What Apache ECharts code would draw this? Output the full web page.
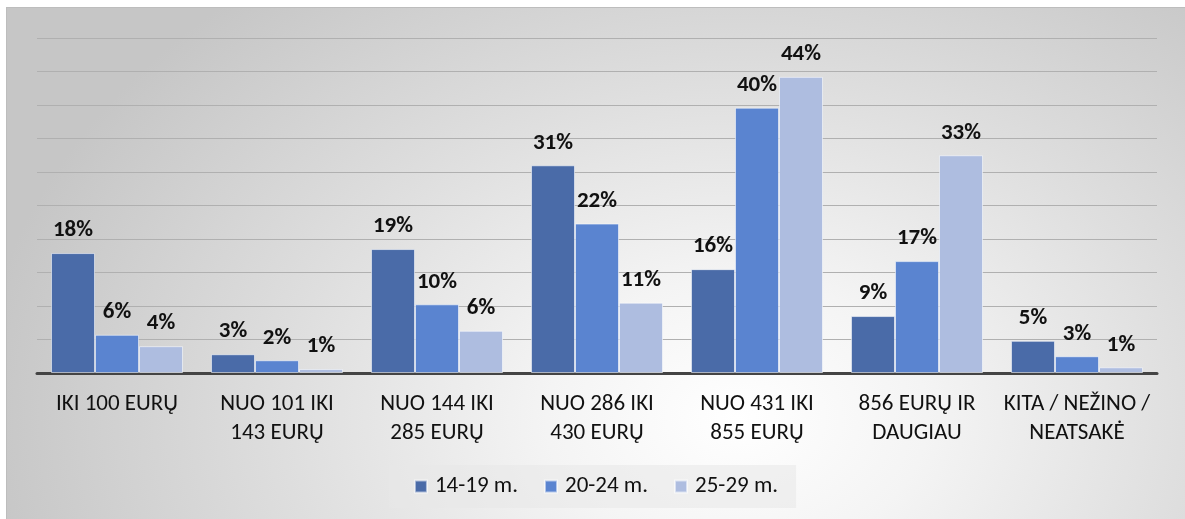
<!DOCTYPE html>
<html>
<head>
<meta charset="utf-8">
<script src="https://cdn.jsdelivr.net/npm/echarts@6/dist/echarts.min.js"></script>
<style>
  html, body { margin: 0; padding: 0; background: #fff; }
  #chart {
    position: absolute; left: 6px; top: 7px;
    width: 1178px; height: 511px;
    border-top: 1px solid #bdbdbd; border-left: 1px solid #bdbdbd;
    background: radial-gradient(ellipse 760px 560px at 730px 410px, #ffffff 0%, #f4f4f4 25%, #dedede 60%, #c6c6c6 100%);
  }
</style>
</head>
<body>
<div id="chart"></div>
<script>
const categories = [
    'IKI 100 EURŲ',
    'NUO 101 IKI\n143 EURŲ',
    'NUO 144 IKI\n285 EURŲ',
    'NUO 286 IKI\n430 EURŲ',
    'NUO 431 IKI\n855 EURŲ',
    '856 EURŲ IR\nDAUGIAU',
    'KITA / NEŽINO /\nNEATSAKĖ'
];
const seriesNames = ['14-19 m.', '20-24 m.', '25-29 m.'];
const age14to19 = [17.9, 2.8, 18.5, 31.0, 15.5, 8.5, 4.8];
const age20to24 = [5.7, 1.9, 10.25, 22.3, 39.6, 16.7, 2.5];
const age25to29 = [4.0, 0.6, 6.3, 10.5, 44.2, 32.5, 0.85];
const colors = ['#4a6ba8', '#5a84d0', '#aebde0'];

const fontFam = 'Carlito, Lato, "Open Sans", sans-serif';
const chart = echarts.init(document.getElementById('chart'));

const makeSeries = (name, data, color) => ({
    name: name,
    type: 'bar',
    data: data,
    barGap: '0%',
    barCategoryGap: '17.5%',
    itemStyle: { color: color, borderColor: 'rgba(255,255,255,0.55)', borderWidth: 1 },
    label: {
        show: true,
        position: 'top',
        distance: 11,
        color: '#111',
        fontWeight: 'bold',
        fontSize: 23,
        fontFamily: fontFam,
        formatter: p => Math.round(p.value) + '%'
    }
});

chart.setOption({
    backgroundColor: 'transparent',
    animation: false,
    grid: { left: 30, right: 28, top: 30, bottom: 146 },
    legend: {
        data: seriesNames,
        left: 'center',
        top: 457,
        itemWidth: 12,
        itemHeight: 12,
        itemGap: 26,
        padding: [10, 18, 10, 25],
        backgroundColor: 'rgba(232,232,232,0.55)',
        icon: 'rect',
        textStyle: { fontSize: 23, color: '#111', fontFamily: fontFam, padding: [0, 0, 0, 3] }
    },
    xAxis: {
        type: 'category',
        data: categories,
        axisTick: { show: false },
        axisLine: { lineStyle: { color: '#444', width: 3 } },
        axisLabel: {
            interval: 0,
            margin: 17,
            fontSize: 23,
            lineHeight: 29,
            color: '#111',
            fontFamily: fontFam
        }
    },
    yAxis: {
        type: 'value',
        min: 0,
        max: 50,
        interval: 5,
        axisLabel: { show: false },
        axisLine: { show: false },
        axisTick: { show: false },
        splitLine: { lineStyle: { color: '#b0b0b0', width: 1 } }
    },
    series: [
        makeSeries(seriesNames[0], age14to19, colors[0]),
        makeSeries(seriesNames[1], age20to24, colors[1]),
        makeSeries(seriesNames[2], age25to29, colors[2])
    ]
});

window.addEventListener('resize', () => chart.resize());
</script>
</body>
</html>
